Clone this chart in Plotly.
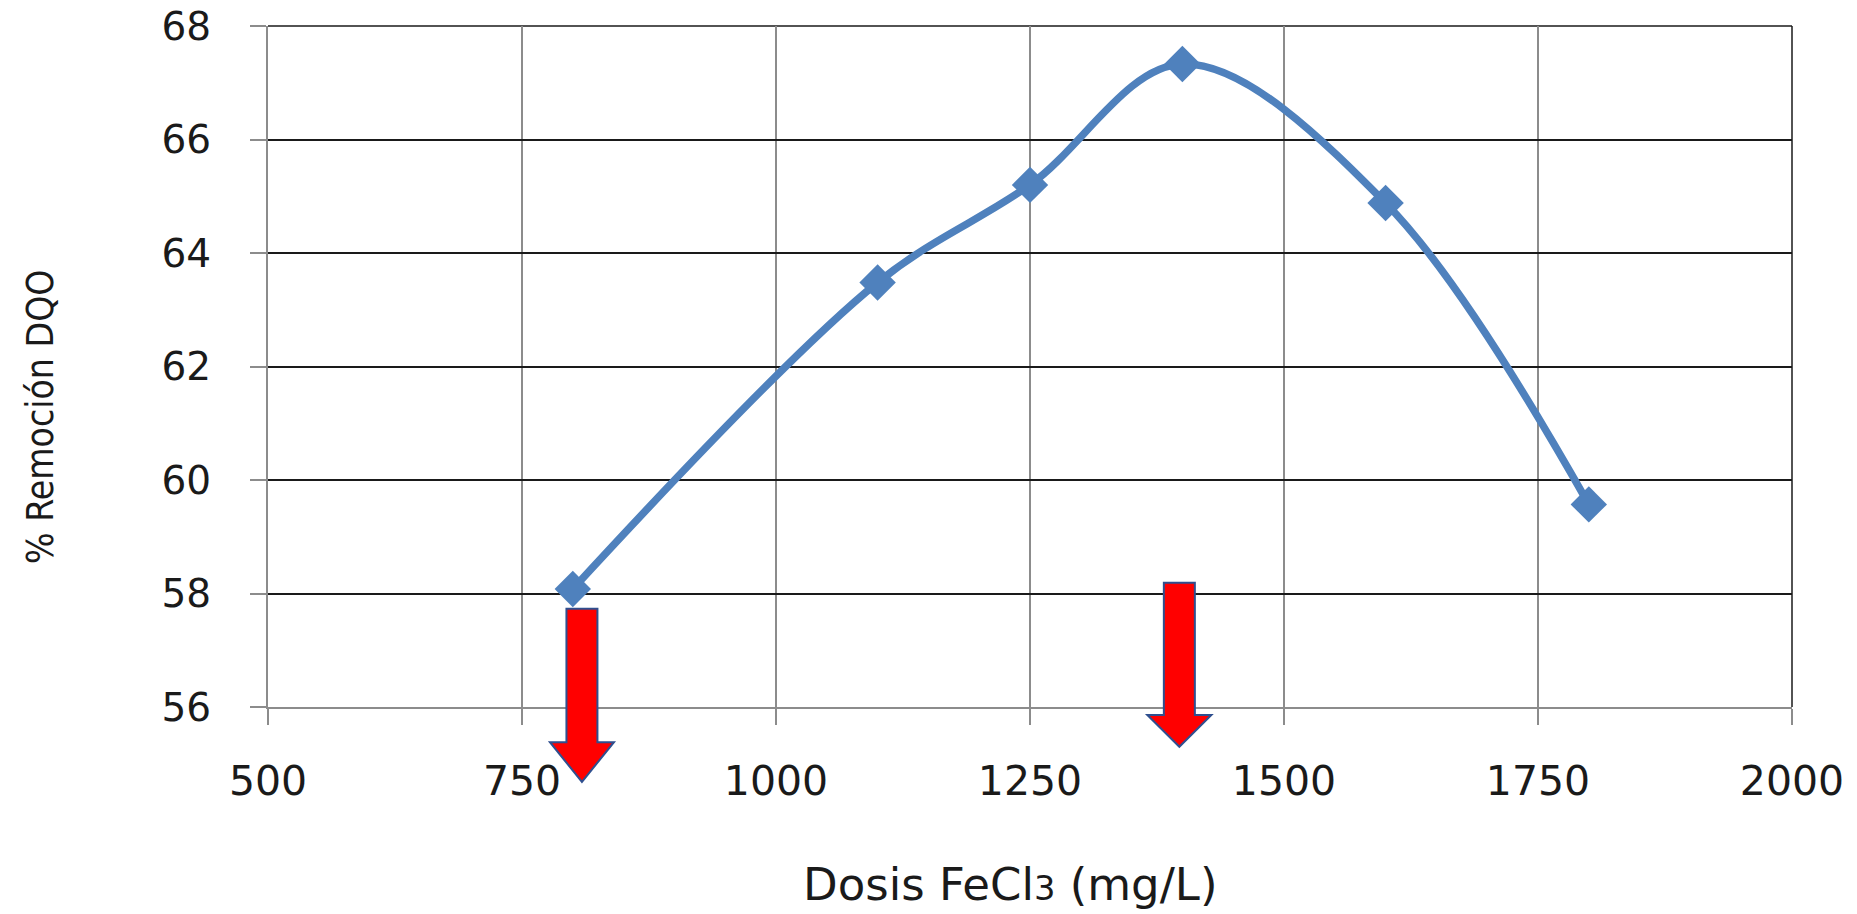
import plotly.graph_objects as go

# Data
dosis = [800, 1100, 1250, 1400, 1600, 1800]
remocion = [58.08, 63.48, 65.2, 67.33, 64.88, 59.57]
x_ticks = [500, 750, 1000, 1250, 1500, 1750, 2000]
y_ticks = [56, 58, 60, 62, 64, 66, 68]

# Arrows (data units): x centre, top of shaft, base of head, tip
arrow_x = [809, 1397]
arrow_top = [57.73, 58.19]
arrow_base = [55.38, 55.86]
arrow_tip = [54.68, 55.30]

W, H = 1857, 914
PL, PT, PR, PB = 268, 26, 1792, 707   # plot area in window pixels
ML, MT = PL, PT
PW, PH = PR - PL, PB - PT
MR, MB = W - ML - PW, H - MT - PH
XR = (500, 2000)
YR = (56, 68)

def px(x):
    return (x - XR[0]) / (XR[1] - XR[0])

def py(y):
    return (y - YR[0]) / (YR[1] - YR[0])

fig = go.Figure()
fig.add_trace(go.Scatter(
    x=dosis, y=remocion, mode="lines+markers",
    line=dict(color="#4F81BD", width=7.5, shape="spline", smoothing=1.0),
    marker=dict(symbol="diamond", size=28, color="#4F81BD"),
    showlegend=False, cliponaxis=False,
))

shapes = []
shaft_hw = 15.5 / PW
head_hw = 32.0 / PW
for xc, yt, yb, ytip in zip(arrow_x, arrow_top, arrow_base, arrow_tip):
    c = px(xc)
    t, b, tp = py(yt), py(yb), py(ytip)
    path = (f"M {c-shaft_hw},{t} L {c+shaft_hw},{t} L {c+shaft_hw},{b} "
            f"L {c+head_hw},{b} L {c},{tp} L {c-head_hw},{b} L {c-shaft_hw},{b} Z")
    shapes.append(dict(type="path", xref="paper", yref="paper", path=path,
                       fillcolor="#FF0000", line=dict(color="#2F4F8F", width=2),
                       layer="above"))
# right and top border of the plot
shapes.append(dict(type="line", xref="paper", yref="paper", x0=1, x1=1, y0=0, y1=1,
                   line=dict(color="#1a1a1a", width=1.5), layer="below"))
shapes.append(dict(type="line", xref="paper", yref="paper", x0=0, x1=1, y0=1, y1=1,
                   line=dict(color="#1a1a1a", width=1.5), layer="below"))

fig.update_layout(
    width=W, height=H,
    margin=dict(l=ML, r=MR, t=MT, b=MB),
    paper_bgcolor="white", plot_bgcolor="white",
    shapes=shapes,
    xaxis=dict(range=list(XR), tickvals=x_ticks, ticktext=[str(v) for v in x_ticks],
               showgrid=True, gridcolor="#8c8c8c", gridwidth=1.5,
               showline=True, linecolor="#8c8c8c", linewidth=2,
               ticks="outside", ticklen=16, tickcolor="#8c8c8c", tickwidth=1.5,
               ticklabelstandoff=21, automargin=False, ticklabeloverflow="allow",
               tickfont=dict(family="DejaVu Sans", size=41, color="#1a1a1a"),
               zeroline=False, fixedrange=True),
    yaxis=dict(range=list(YR), tickvals=y_ticks, ticktext=[str(v) for v in y_ticks],
               showgrid=True, gridcolor="#1a1a1a", gridwidth=1.5,
               showline=True, linecolor="#8c8c8c", linewidth=2,
               ticks="outside", ticklen=16, tickcolor="#8c8c8c", tickwidth=1.5,
               ticklabelstandoff=31, automargin=False, ticklabeloverflow="allow",
               tickfont=dict(family="DejaVu Sans", size=39, color="#1a1a1a"),
               zeroline=False, fixedrange=True),
    annotations=[
        dict(text="Dosis FeCl<span style='font-size:75%'>3</span> (mg/L)",
             xref="paper", yref="paper", x=(1010 - PL) / PW, y=-(884 - PB) / PH,
             xanchor="center", yanchor="middle", showarrow=False,
             font=dict(family="DejaVu Sans", size=45, color="#1a1a1a")),
        dict(text="% Remoción DQO", textangle=-90,
             xref="paper", yref="paper", x=(40 - PL) / PW, y=(PB - 416) / PH,
             xanchor="center", yanchor="middle", showarrow=False,
             font=dict(family="DejaVu Sans Condensed, sans-serif",
                       size=37, color="#1a1a1a")),
    ],
)

fig.write_html("out.html", config={"displayModeBar": False},
               post_script="document.body.style.margin='0';")
